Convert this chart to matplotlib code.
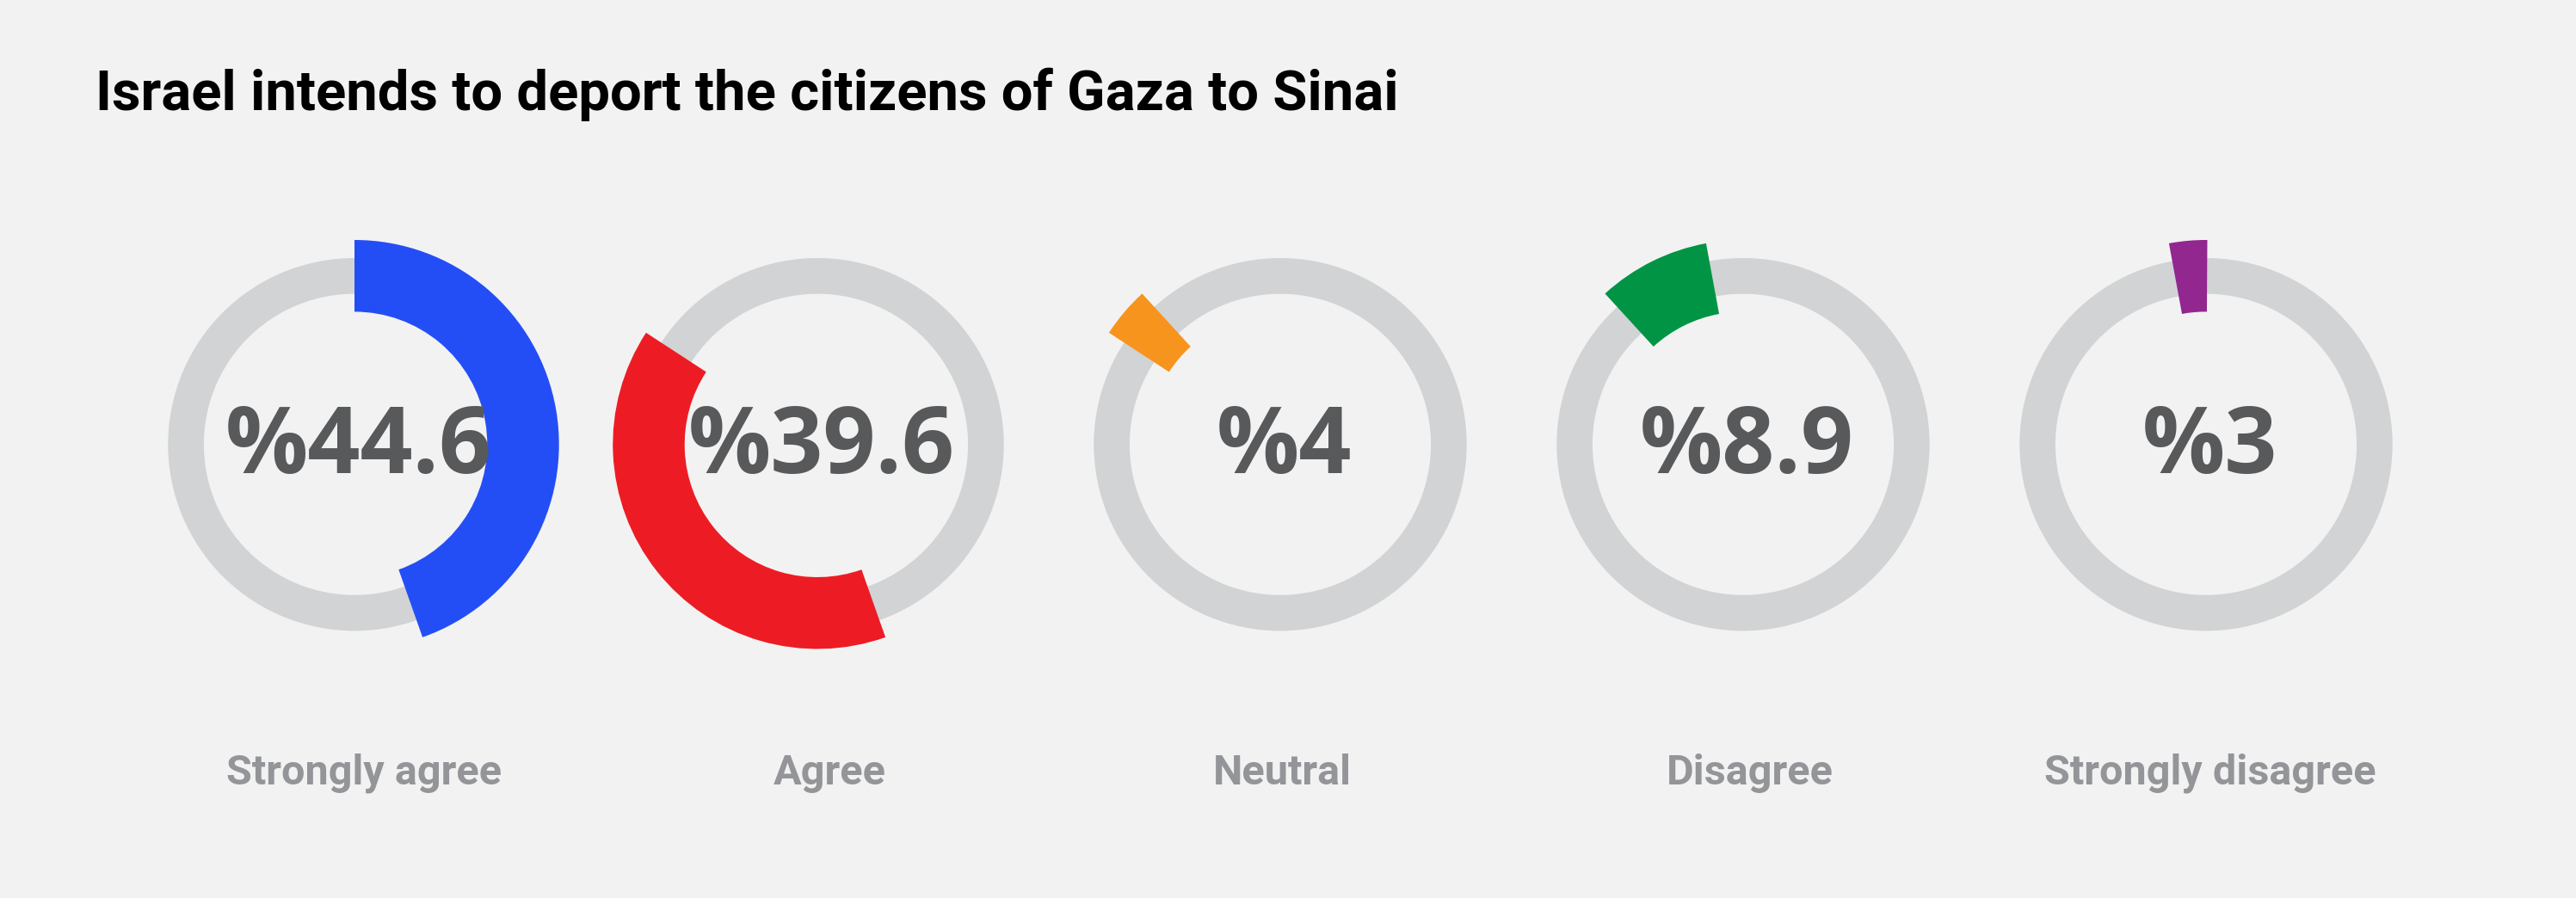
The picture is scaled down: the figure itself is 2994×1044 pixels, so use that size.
import matplotlib
matplotlib.use("Agg")
import matplotlib.pyplot as plt

# survey answers
categories = ["Strongly agree", "Agree", "Neutral", "Disagree", "Strongly disagree"]
values = [44.6, 39.6, 4, 8.9, 3]
value_labels = ["%44.6", "%39.6", "%4", "%8.9", "%3"]
colors = ["#244ef5", "#ed1c24", "#f7941d", "#009444", "#92278f"]
title = "Israel intends to deport the citizens of Gaza to Sinai"

W, H = 2994, 1044
BG = "#f2f2f2"
RING = "#d1d3d4"
NARROW = ["Roboto", "DejaVu Sans"]

fig = plt.figure(figsize=(W / 100, H / 100), dpi=100, facecolor=BG)

R = 216.7          # gray ring outer radius in px
LIM = 1.15
side = 2 * LIM * R
cy = 516.7
label_shift = [11, 14, 2, 8, 5]   # labels sit a little right of the rings
start = 0.0
for i, (cat, val, lab, col) in enumerate(zip(categories, values, value_labels, colors)):
    cx = 412 + 538 * i
    ax = fig.add_axes([(cx - side / 2) / W, (H - cy - side / 2) / H, side / W, side / H])
    ax.set_facecolor(BG)
    # background ring
    ax.pie([1], radius=1.0, colors=[RING], startangle=90,
           wedgeprops=dict(width=0.192, linewidth=0))
    # coloured arc, starts where the previous answer stopped
    ax.pie([val, 100 - val], radius=1.097, colors=[col, "none"],
           startangle=90 - start * 3.6, counterclock=False,
           wedgeprops=dict(width=0.385, linewidth=0))
    start += val
    ax.text(0.02, -0.154, lab, ha="center", va="baseline", fontsize=77,
            fontweight="bold", color="#58595b", family="Open Sans")
    ax.set_xlim(-LIM, LIM)
    ax.set_ylim(-LIM, LIM)
    ax.set_aspect("equal")
    ax.axis("off")

    fig.text((cx + label_shift[i]) / W, (H - 911.7) / H, cat, ha="center",
             va="baseline", fontsize=35, fontweight="bold", color="#939598",
             family=NARROW)

fig.text(111 / W, (H - 128.3) / H, title, ha="left", va="baseline",
         fontsize=47, fontweight="bold", color="black", family=NARROW)

fig.savefig("out.png", dpi=100, facecolor=BG)
